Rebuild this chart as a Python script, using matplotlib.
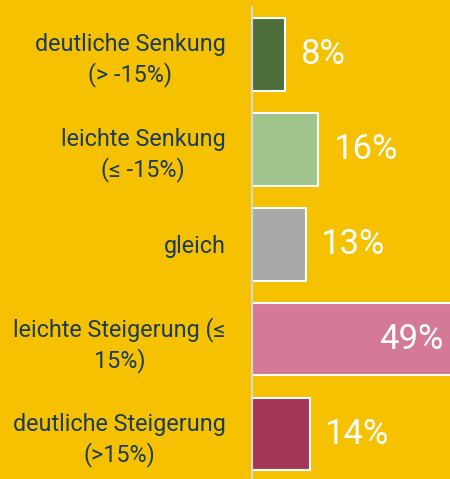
import matplotlib
matplotlib.use('Agg')
import matplotlib.pyplot as plt

categories = ["deutliche Senkung\n(> -15%)",
              "leichte Senkung\n(≤ -15%)",
              "gleich",
              "leichte Steigerung (≤\n15%)",
              "deutliche Steigerung\n(>15%)"]
values = [8, 16, 13, 49, 14]
colors = ["#4b6e3b", "#9fc48c", "#a9a9a9", "#d47a96", "#a33656"]

bg = "#f5c100"
navy = "#1d3c5c"

fig = plt.figure(figsize=(4.5, 4.79), dpi=100, facecolor=bg)
ax = fig.add_axes([252 / 450, 0, 198 / 450, 472 / 479])
ax.set_facecolor(bg)

pos = range(len(values))
ax.barh(pos, values, height=0.76, color=colors, edgecolor="white", linewidth=1.5)
ax.set_xlim(0, 48.1)
ax.set_ylim(4.47, -0.5)

for p, v in zip(pos, values):
    if v > 40:
        ax.text(v - 2.6, p, "%d%%" % v, ha="right", va="center",
                color="white", fontsize=25, family="Roboto")
    else:
        ax.text(v + 3.6, p, "%d%%" % v, ha="left", va="center",
                color="white", fontsize=25, family="Roboto")

ax.set_yticks(list(pos))
ax.set_yticklabels(categories, fontsize=16.8, color=navy, family="Roboto",
                   multialignment="center", linespacing=1.3)
ax.tick_params(axis="y", length=0, pad=19)
ax.set_xticks([])
for s in ["top", "right", "bottom"]:
    ax.spines[s].set_visible(False)
ax.spines["left"].set_color("#d6d6d6")
ax.spines["left"].set_linewidth(1.5)

fig.savefig("out.png", dpi=100, facecolor=bg)
